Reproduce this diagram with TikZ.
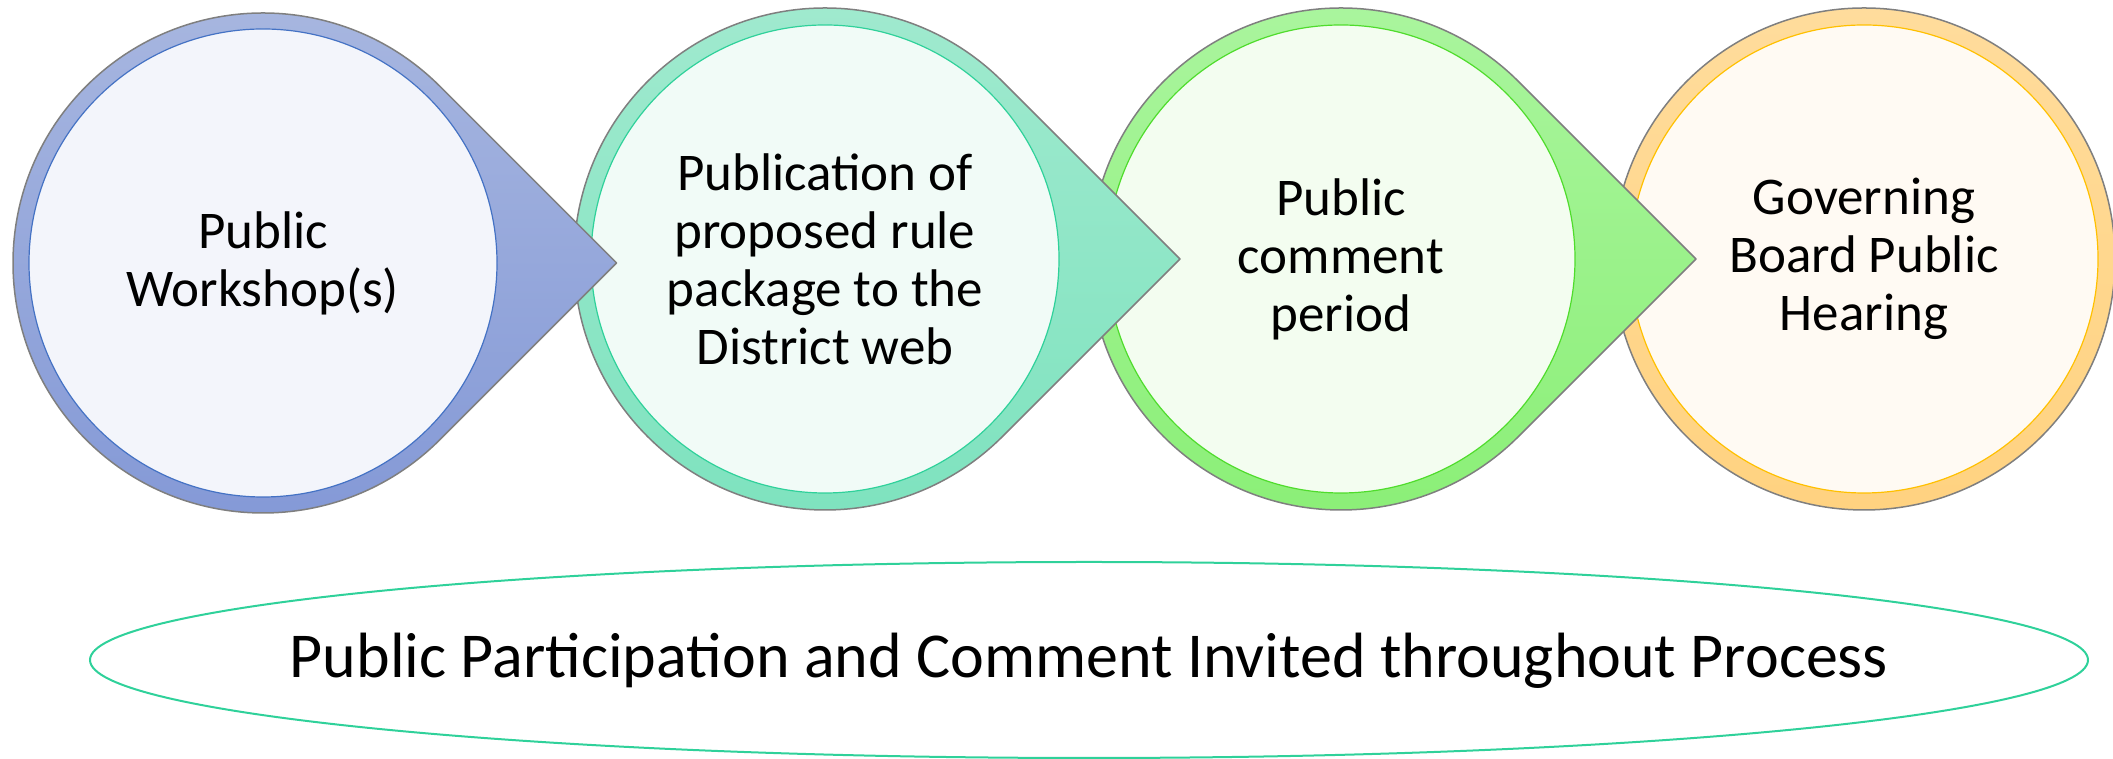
\documentclass[tikz,border=0pt]{standalone}
\usepackage{fontspec}
\setmainfont{Carlito}
\usepackage{tikz}
\usetikzlibrary{
    shapes.geometric,
    calc
}
\definecolor{ringline}{HTML}{7F7F7F}
\definecolor{bluetop}{HTML}{A8B7E0}
\definecolor{bluebot}{HTML}{8398D6}
\definecolor{bluefill}{HTML}{F3F5FB}
\definecolor{blueline}{HTML}{4472C4}
\definecolor{tealtop}{HTML}{A1EACF}
\definecolor{tealbot}{HTML}{7DE2BE}
\definecolor{tealfill}{HTML}{F1FBF7}
\definecolor{tealline}{HTML}{2FD19A}
\definecolor{greentop}{HTML}{ABF59F}
\definecolor{greenbot}{HTML}{8AEF76}
\definecolor{greenfill}{HTML}{F3FDF0}
\definecolor{greenline}{HTML}{4FDC2C}
\definecolor{goldtop}{HTML}{FFDC9C}
\definecolor{goldbot}{HTML}{FFD280}
\definecolor{goldfill}{HTML}{FFFAF3}
\definecolor{goldline}{HTML}{FFC000}
\tikzstyle{drop} = [
    draw=ringline,
    line width=1.5pt,
    line join=round
]
\tikzstyle{stage} = [
    circle,
    minimum size=468pt,
    inner sep=0pt,
    line width=1.2pt,
    align=center,
    font=\fontsize{53}{58}\selectfont
]
\tikzstyle{band} = [
    draw=tealline,
    line width=2pt
]
\tikzstyle{invite} = [
    inner sep=0pt,
    font=\fontsize{64}{70}\selectfont
]
\begin{document}
\begin{tikzpicture}[x=1pt, y=1pt]
        \useasboundingbox (0,0) rectangle (2113,759);

        % Centres
        \coordinate (c1) at (263,496);
        \coordinate (c2) at (825,500);
        \coordinate (c3) at (1341,500);
        \coordinate (c4) at (1864,500);
        \coordinate (band) at (1089,99);

        % Last stage first, so each tip lies over the next circle
        \path[drop, top color=goldtop, bottom color=goldbot] (c4) circle[radius=251];
        \node[stage, draw=goldline, fill=goldfill] (hearing) at (c4) {Governing\\Board Public\\Hearing};

        \path[drop, top color=greentop, bottom color=greenbot]
            ($(c3)+(45:251)$) arc[start angle=45, end angle=315, radius=251] -- ++(45:251) -- cycle;
        \node[stage, draw=greenline, fill=greenfill] (comment) at (c3) {Public\\comment\\period};

        \path[drop, top color=tealtop, bottom color=tealbot]
            ($(c2)+(45:251)$) arc[start angle=45, end angle=315, radius=251] -- ++(45:251) -- cycle;
        \node[stage, draw=tealline, fill=tealfill] (publication) at (c2) {Publication of\\proposed rule\\package to the\\District web};

        \path[drop, top color=bluetop, bottom color=bluebot]
            ($(c1)+(45:250)$) arc[start angle=45, end angle=315, radius=250] -- ++(45:250) -- cycle;
        \node[stage, draw=blueline, fill=bluefill] (workshop) at (c1) {Public\\Workshop(s)};

        % Participation band
        \draw[band] (band) ellipse[x radius=999, y radius=98];
        \node[invite, anchor=base] (invite) at ($(band)+(0,-18)$) {Public Participation and Comment Invited throughout Process};
    \end{tikzpicture}
\end{document}
